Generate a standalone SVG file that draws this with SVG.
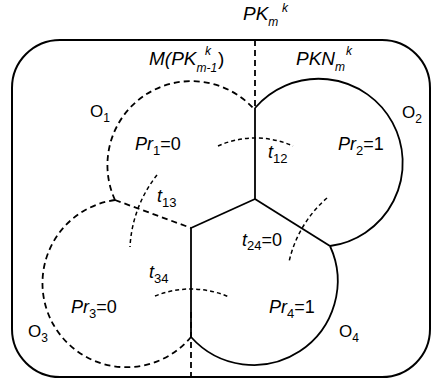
<svg xmlns="http://www.w3.org/2000/svg" width="432" height="382" viewBox="0 0 432 382">
<style>
.ln{fill:none;stroke:#000;stroke-width:1.8}
.dl{fill:none;stroke:#000;stroke-width:1.8;stroke-dasharray:6 4}
.tr{fill:none;stroke:#000;stroke-width:1.5;stroke-dasharray:4 3}
text{font-family:"Liberation Sans",Arial,sans-serif;fill:#000}
.i{font-style:italic}
.lb{font-size:17px}
.hd{font-size:19px}
.sm{font-size:12px}
.pr{font-size:18px}
.ps{font-size:13px}
</style>
<rect id="frame" x="12" y="40" width="418" height="337" rx="48" ry="48" fill="none" stroke="#000" stroke-width="2"/>
<g id="connectors">
<line class="dl" x1="255" y1="40" x2="255" y2="106"/>
<line class="dl" x1="191" y1="312" x2="191" y2="378"/>
<line class="ln" x1="255" y1="108" x2="255" y2="199"/>
<line class="ln" x1="255" y1="199" x2="191" y2="228"/>
<line class="ln" x1="255" y1="199" x2="330" y2="246"/>
<line class="ln" x1="191" y1="228" x2="191" y2="338"/>
<line class="dl" x1="115" y1="200" x2="191" y2="228"/>
<path id="t12arc" class="tr" d="M218,146 A92,92 0 0 1 293,146"/>
<path id="t13arc" class="tr" d="M157,175 A126,126 0 0 0 130,247"/>
<path id="t24arc" class="tr" d="M327,198 A118,118 0 0 0 289,262"/>
<path id="t34arc" class="tr" d="M155,296 A95,95 0 0 1 229,297"/>
</g>
<g id="O1">
<path class="dl" d="M115,200 A84,84 0 0 1 253,108"/>
<text x="90" y="117" class="lb">O<tspan class="sm" dy="5">1</tspan></text>
<text x="135" y="150" class="pr"><tspan class="i">Pr</tspan><tspan class="ps" dy="5">1</tspan><tspan dy="-5">=0</tspan></text>
</g>
<g id="O2">
<path class="ln" d="M255,108 A84,84 0 1 1 330,246"/>
<text x="402" y="118" class="lb">O<tspan class="sm" dy="5">2</tspan></text>
<text x="338" y="150" class="pr"><tspan class="i">Pr</tspan><tspan class="ps" dy="5">2</tspan><tspan dy="-5">=1</tspan></text>
</g>
<g id="O3">
<path class="dl" d="M115,200 A84,84 0 1 0 191,337"/>
<text x="28" y="337" class="lb">O<tspan class="sm" dy="5">3</tspan></text>
<text x="71" y="313" class="pr"><tspan class="i">Pr</tspan><tspan class="ps" dy="5">3</tspan><tspan dy="-5">=0</tspan></text>
</g>
<g id="O4">
<path class="ln" d="M191,337 A84,84 0 0 0 330,246"/>
<text x="339" y="337" class="lb">O<tspan class="sm" dy="5">4</tspan></text>
<text x="269" y="313" class="pr"><tspan class="i">Pr</tspan><tspan class="ps" dy="5">4</tspan><tspan dy="-5">=1</tspan></text>
</g>
<g id="labels">
<text x="243" y="20" class="hd i">PK<tspan class="sm" dy="6">m</tspan><tspan class="sm" x="282" y="12">k</tspan></text>
<text x="149" y="65" class="hd i">M(PK<tspan class="sm" dy="7">m-1</tspan><tspan class="sm" x="205" y="55">k</tspan><tspan x="218" y="65" font-style="normal">)</tspan></text>
<text x="296" y="65" class="hd i">PKN<tspan class="sm" dy="6">m</tspan><tspan class="sm" x="346" y="55">k</tspan></text>
<text x="268" y="158" class="pr i">t<tspan class="ps" font-style="normal" dy="5">12</tspan></text>
<text x="157" y="202" class="pr i">t<tspan class="ps" font-style="normal" dy="5">13</tspan></text>
<text x="242" y="246" class="pr i">t<tspan class="ps" font-style="normal" dy="4">24</tspan><tspan font-style="normal" dy="-4">=0</tspan></text>
<text x="149" y="278" class="pr i">t<tspan class="ps" font-style="normal" dy="5">34</tspan></text>
</g>
</svg>
